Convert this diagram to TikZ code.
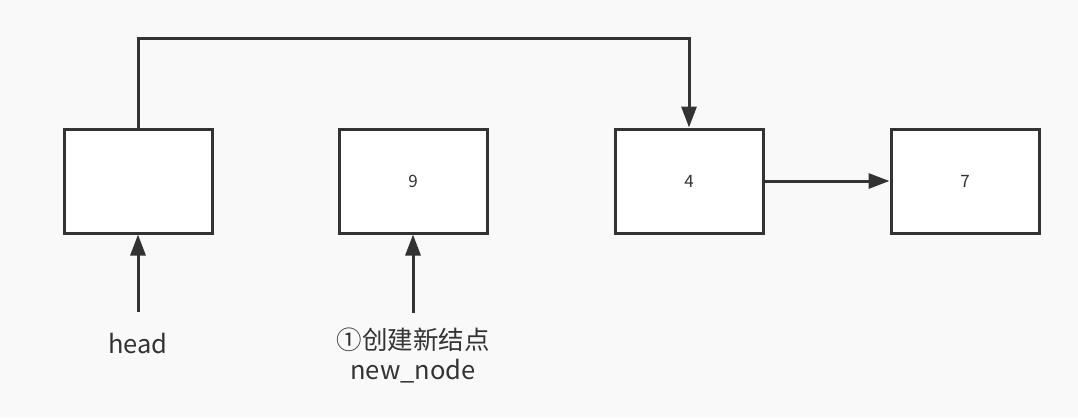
\documentclass[tikz,border=0pt]{standalone}
\usepackage{fontspec}
\setmainfont{Noto Sans CJK SC}
\usetikzlibrary{arrows.meta}
\definecolor{bg}{HTML}{F9F9F9}
\definecolor{ln}{HTML}{333333}
\begin{document}
\begin{tikzpicture}[x=1pt,y=-1pt,
  box/.style={draw=ln,fill=white,line width=3pt,minimum width=148pt,minimum height=104pt,inner sep=0pt,font=\fontsize{17pt}{20pt}\selectfont,text=ln},
  conn/.style={draw=ln,line width=3pt,-{Triangle[length=21pt,width=15pt]}},
  lbl/.style={text=ln,font=\fontsize{25.5pt}{30pt}\selectfont,inner sep=0pt,align=center}]
\fill[bg] (0,0) rectangle (1078,418);
\useasboundingbox (0,0) rectangle (1078,418);
\node[box] (h) at (138,181) {};
\node[box] (n9) at (413,181) {9};
\node[box] (n4) at (689,181) {4};
\node[box] (n7) at (965,181) {7};
\node[lbl] (head) at (138,344) {head};
\node[lbl] (nn) at (413,355) {①创建新结点\\new\_node};
\coordinate (hs) at (138,312);
\coordinate (ns) at (413,313);
\draw[conn] (h.north) -- (138,38) -| (n4.north);
\draw[conn] (n4.east) -- (n7.west);
\draw[conn] (hs) -- (h.south);
\draw[conn] (ns) -- (n9.south);
\end{tikzpicture}
\end{document}
